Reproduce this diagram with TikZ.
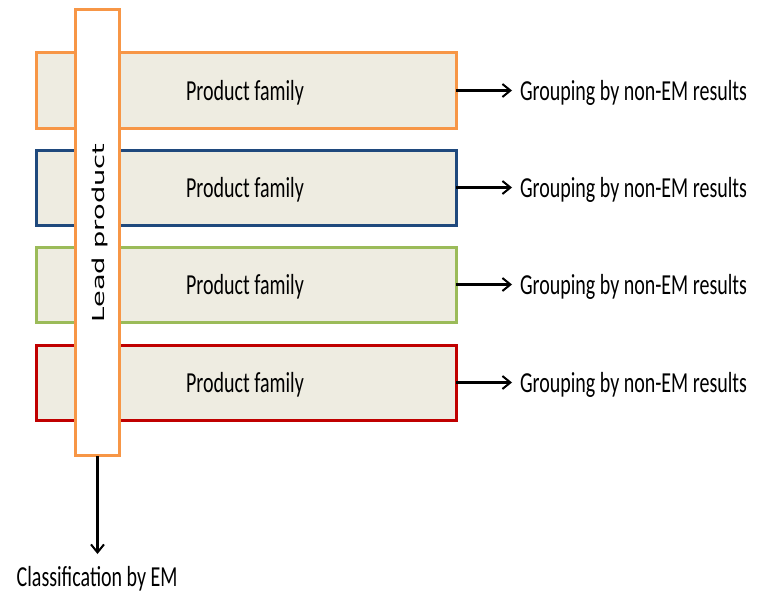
\documentclass[tikz,border=0pt]{standalone}
\usepackage{fontspec}
\usepackage{graphicx}
\setmainfont{Carlito}
\newfontfamily\leadfont{DejaVu Sans}
\usetikzlibrary{arrows.meta}

\definecolor{famfill}{HTML}{EEECE1}
\definecolor{famorange}{HTML}{F79646}
\definecolor{famblue}{HTML}{1F497D}
\definecolor{famgreen}{HTML}{9BBB59}
\definecolor{famred}{HTML}{C00000}

\newcommand{\tallText}[1]{\scalebox{1}[1.45]{#1}}

\tikzset{
  family/.style={draw=#1, fill=famfill, line width=3pt, rectangle,
    minimum width=420pt, minimum height=75pt, inner sep=0pt, outer sep=0pt},
  leadbox/.style={draw=famorange, fill=white, line width=3pt, rectangle,
    minimum width=44pt, minimum height=446pt, inner sep=0pt, outer sep=0pt},
  label/.style={inner sep=0pt, outer sep=0pt, font=\fontsize{20}{24}\selectfont},
  arr/.style={line width=2.2pt, -{Straight Barb[length=8pt,width=13pt,line width=2pt]}}
}

\begin{document}
\begin{tikzpicture}[x=1pt, y=-1pt]
  \useasboundingbox (0,0) rectangle (763,594);

  % product family rows
  \node[family=famorange] (f1) at (246,90.5) {};
  \node[family=famblue]   (f2) at (246,187.5) {};
  \node[family=famgreen]  (f3) at (246,284.5) {};
  \node[family=famred]    (f4) at (246,382.5) {};

  \foreach \i/\y in {1/90.5, 2/187.5, 3/284.5, 4/382.5} {
    \node[label, anchor=base] (p\i) at (245,\y+10) {\tallText{Product family}};
    \node[label, anchor=base west] (g\i) at (520,\y+10) {\tallText{Grouping by non-EM results}};
    \draw[arr] (f\i.east) -- ([xshift=-8pt]g\i.west |- f\i.east);
  }

  % lead product bar across all families
  \node[leadbox] (lead) at (97.5,232.75) {};
  \node[inner sep=0pt, rotate=90, anchor=base, font=\leadfont\fontsize{16.5}{20}\selectfont]
    (leadtxt) at (104,233) {\scalebox{1.65}[1]{Lead product}};

  % classification output
  \node[label, anchor=base west] (cls) at (16.7,586.7) {\tallText{Classification by EM}};
  \coordinate (clsend) at (97.5,554);
  \draw[arr] (lead.south) -- (clsend);
\end{tikzpicture}
\end{document}
